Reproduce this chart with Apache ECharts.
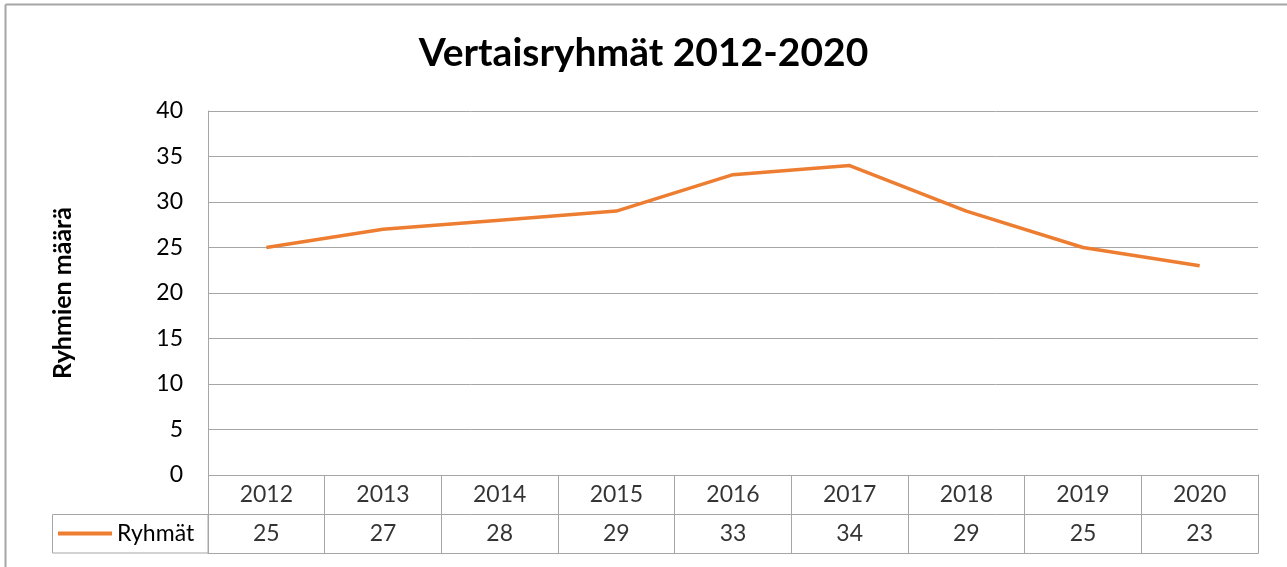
<!DOCTYPE html>
<html>
<head>
<meta charset="utf-8">
<script src="https://cdn.jsdelivr.net/npm/echarts@6/dist/echarts.min.js"></script>
<style>
html,body{margin:0;padding:0;background:#fff;}
#chart{width:1287px;height:567px;}
</style>
</head>
<body>
<div id="chart"></div>
<script>
const titleText = 'Vertaisryhmät 2012-2020';
const yAxisTitle = 'Ryhmien määrä';
const seriesName = 'Ryhmät';
const categories = ['2012','2013','2014','2015','2016','2017','2018','2019','2020'];
const values = [25, 27, 28, 29, 33, 34, 29, 25, 23];
const yMin = 0, yMax = 40, yStep = 5;

const FONT = 'Lato, "Open Sans", sans-serif';
const ORANGE = '#ED7D31';
const GRID_C = '#a6a6a6';
const TXT = '#000';
const FS = 23;

const chart = echarts.init(document.getElementById('chart'), null, {renderer:'canvas'});

const yearRow = categories.map(c => [c, 1.5]);
const valueRow = values.map((v, i) => [categories[i], 0.5, v]);

chart.setOption({
  animation: false,
  backgroundColor: '#fff',
  title: {
    text: titleText,
    left: 'center',
    top: 29,
    textStyle: {fontFamily: FONT, fontWeight: 'bold', fontSize: 39, color: TXT}
  },
  legend: {
    data: [{name: seriesName, icon: 'rect'}],
    left: 58,
    top: 522,
    padding: 0,
    itemWidth: 54,
    itemHeight: 4,
    itemGap: 0,
    textStyle: {fontFamily: FONT, fontSize: FS, color: TXT, padding: [0,0,0,0]},
    selectedMode: false
  },
  grid: [
    {left: 208, top: 111, width: 1050, height: 364, containLabel: false},
    {left: 208, top: 475, width: 1050, height: 78, containLabel: false}
  ],
  xAxis: [
    {
      gridIndex: 0, type: 'category', data: categories, boundaryGap: true,
      axisLine: {show: false}, axisTick: {show: false}, axisLabel: {show: false},
      splitLine: {show: false}
    },
    {
      gridIndex: 1, type: 'category', data: categories, boundaryGap: true, position: 'bottom',
      axisLine: {show: true, lineStyle: {color: GRID_C, width: 1}},
      axisTick: {show: false}, axisLabel: {show: false},
      splitLine: {show: true, interval: 0, lineStyle: {color: GRID_C, width: 1}}
    }
  ],
  yAxis: [
    {
      gridIndex: 0, type: 'value', min: yMin, max: yMax, interval: yStep,
      name: yAxisTitle, nameLocation: 'middle', nameGap: 133, nameRotate: 90,
      nameTextStyle: {fontFamily: FONT, fontWeight: 'bold', fontSize: 25, color: TXT},
      axisLine: {show: true, lineStyle: {color: GRID_C, width: 1}},
      axisTick: {show: false},
      axisLabel: {fontFamily: FONT, fontSize: FS, color: TXT, margin: 25},
      splitLine: {show: true, lineStyle: {color: GRID_C, width: 1}}
    },
    {
      gridIndex: 1, type: 'value', min: 0, max: 2, interval: 1,
      axisLine: {show: true, lineStyle: {color: GRID_C, width: 1}},
      axisTick: {show: false}, axisLabel: {show: false},
      splitLine: {show: true, lineStyle: {color: GRID_C, width: 1}}
    },
    {
      gridIndex: 1, type: 'value', min: 0, max: 2, interval: 1, position: 'right',
      axisLine: {show: true, lineStyle: {color: GRID_C, width: 1}},
      axisTick: {show: false}, axisLabel: {show: false}, splitLine: {show: false}
    }
  ],
  graphic: [
    {type: 'line', shape: {x1: 5.5, y1: 4.5, x2: 1287, y2: 4.5}, style: {stroke: '#a6a6a6', lineWidth: 2}},
    {type: 'line', shape: {x1: 5.5, y1: 4.5, x2: 5.5, y2: 567}, style: {stroke: '#a6a6a6', lineWidth: 2}},
    {type: 'rect', shape: {x: 52.5, y: 514.5, width: 155.5, height: 38.5}, style: {fill: 'none', stroke: GRID_C, lineWidth: 1}}
  ],
  series: [
    {
      name: seriesName, type: 'line', xAxisIndex: 0, yAxisIndex: 0,
      data: values, symbol: 'none', showSymbol: false,
      lineStyle: {color: ORANGE, width: 3.5}, itemStyle: {color: ORANGE}
    },
    {
      type: 'scatter', xAxisIndex: 1, yAxisIndex: 1, data: yearRow,
      symbolSize: 0, silent: true,
      label: {show: true, position: 'inside', formatter: p => p.value[0],
        fontFamily: FONT, fontSize: FS, color: TXT}
    },
    {
      type: 'scatter', xAxisIndex: 1, yAxisIndex: 1, data: valueRow,
      symbolSize: 0, silent: true,
      label: {show: true, position: 'inside', formatter: p => String(p.value[2]),
        fontFamily: FONT, fontSize: FS, color: TXT}
    }
  ]
});
</script>
</body>
</html>
